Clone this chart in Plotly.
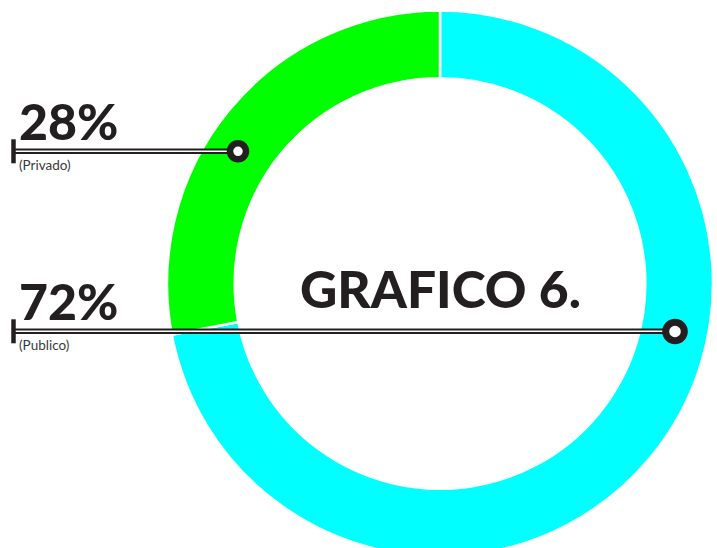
import plotly.graph_objects as go

labels = ["Publico", "Privado"]
values = [72, 28]
colors = ["#00FFFF", "#00FF00"]
pct_text = ["28%", "72%"]
sub_text = ["(Privado)", "(Publico)"]
title_text = "GRAFICO 6."

W, H = 717, 560
INK = "#231f20"

def px(x):
    return x / W

def py(y):
    return 1 - y / H

fig = go.Figure()
fig.add_trace(go.Pie(
    labels=labels, values=values, sort=False, direction="clockwise",
    rotation=0, hole=0.752, textinfo="none", hoverinfo="label+percent",
    marker=dict(colors=colors, line=dict(color="white", width=2.5)),
    domain=dict(x=[px(167), px(713)], y=[py(556.5), py(10.5)]),
    showlegend=False,
))

shapes = []
annotations = []
# leader lines: (y of line, circle center x, circle center y, path radius, stroke)
leaders = [(151.3, 238, 151.3, 8.0, 6.5), (331.3, 675, 331.5, 9.3, 7.0)]
label_y = [141, 321]
for i, (ly, cx, cy, r, sw) in enumerate(leaders):
    shapes.append(dict(type="line", xref="paper", yref="paper",
                       x0=px(14), x1=px(cx - r), y0=py(ly), y1=py(ly),
                       line=dict(color=INK, width=5.5)))
    shapes.append(dict(type="line", xref="paper", yref="paper",
                       x0=px(15), x1=px(cx - r), y0=py(ly), y1=py(ly),
                       line=dict(color="white", width=1.6)))
    shapes.append(dict(type="line", xref="paper", yref="paper",
                       x0=px(13.5), x1=px(13.5), y0=py(ly - 12), y1=py(ly + 12),
                       line=dict(color=INK, width=4.5)))
    shapes.append(dict(type="circle", xref="paper", yref="paper",
                       x0=px(cx - r), x1=px(cx + r), y0=py(cy + r), y1=py(cy - r),
                       fillcolor="white", line=dict(color=INK, width=sw)))
    annotations.append(dict(text=pct_text[i], xref="paper", yref="paper",
                            x=px(17), y=py(label_y[i] + 12), xanchor="left", yanchor="bottom",
                            showarrow=False,
                            font=dict(family="Lato", size=50, color=INK, weight=900)))
    annotations.append(dict(text=sub_text[i], xref="paper", yref="paper",
                            x=px(17), y=py(ly + 4), xanchor="left", yanchor="top",
                            showarrow=False,
                            font=dict(family="Lato", size=13.5, color="#3a3a3a")))

annotations.append(dict(text=title_text, xref="paper", yref="paper",
                        x=px(440), y=py(288), xanchor="center", yanchor="middle",
                        showarrow=False,
                        font=dict(family="Lato", size=51.5, color=INK, weight=900)))

fig.update_layout(width=W, height=H, margin=dict(l=0, r=0, t=0, b=0),
                  paper_bgcolor="white", plot_bgcolor="white",
                  shapes=shapes, annotations=annotations)

fig.write_html("out.html", config={"displayModeBar": False},
               post_script="document.body.style.margin='0';document.body.style.overflow='hidden';document.documentElement.style.overflow='hidden';")
